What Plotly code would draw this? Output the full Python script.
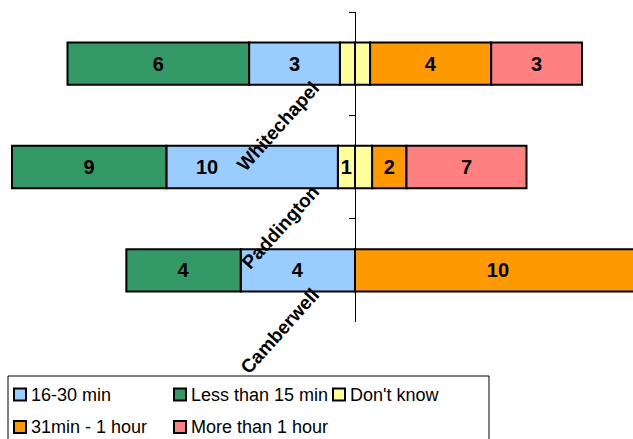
import plotly.graph_objects as go

# Travel time to hospital, by site (number of respondents)
sites = ["Whitechapel", "Paddington", "Camberwell"]
less_15 = [6, 9, 4]
min_16_30 = [3, 10, 4]
dont_know = [1, 2, 0]
min_31_60 = [4, 2, 10]
over_1h = [3, 7, 0]

series_names = ["16-30 min", "Less than 15 min", "Don't know", "31min - 1 hour", "More than 1 hour"]
colors = {
    "Less than 15 min": "#339966",
    "16-30 min": "#99CCFF",
    "Don't know": "#FFFF99",
    "31min - 1 hour": "#FF9900",
    "More than 1 hour": "#FF8080",
}

totals = [sum(r) for r in zip(less_15, min_16_30, dont_know, min_31_60, over_1h)]


def share(vals, sign=1, half=False):
    k = 0.5 if half else 1.0
    return [sign * k * 100.0 * v / t for v, t in zip(vals, totals)]


def labels(vals):
    return [f"{v:g}" if v >= 1 else "" for v in vals]


FONT = "Liberation Sans, Arial, sans-serif"
W, H = 633, 439
TOP, BOTTOM = 12, 322  # plot area, pixels from top
BAR_FONT = dict(family=FONT, size=20, color="black", weight="bold")
fig = go.Figure()


def add(name, x, text):
    fig.add_trace(go.Bar(
        y=sites, x=x, orientation="h", name=name,
        marker=dict(color=colors[name], line=dict(color="black", width=2)),
        text=text, textposition="inside", insidetextanchor="middle", textangle=0,
        textfont=BAR_FONT, showlegend=False,
    ))


# left of centre: half of "Don't know", then shorter journeys outward
half_dk = [v / 2 for v in dont_know]
blue_text = labels(min_16_30)
# the Paddington 16-30 label is set apart from the site name crossing the bar
moved = sites.index("Paddington")
blue_text[moved] = ""
add("Don't know", share(dont_know, -1, True), labels(half_dk))
add("16-30 min", share(min_16_30, -1), blue_text)
add("Less than 15 min", share(less_15, -1), labels(less_15))
# right of centre: other half of "Don't know", then longer journeys
add("Don't know", share(dont_know, 1, True), [""] * len(sites))
add("31min - 1 hour", share(min_31_60), labels(min_31_60))
add("More than 1 hour", share(over_1h), labels(over_1h))


# legend box below the chart, laid out in a 3-column grid
def px_x(x):
    return x / W


def px_y(y):
    return (BOTTOM - y) / (BOTTOM - TOP)


shapes = [dict(type="rect", xref="paper", yref="paper",
               x0=px_x(8), x1=px_x(489), y0=px_y(376), y1=px_y(460),
               line=dict(color="black", width=1), fillcolor="white", layer="above")]
annotations = []
col_x = [14, 174, 333]
row_y = [394.5, 427]
for i, name in enumerate(series_names):
    cx, cy = col_x[i % 3], row_y[i // 3]
    shapes.append(dict(type="rect", xref="paper", yref="paper",
                       x0=px_x(cx), x1=px_x(cx + 12), y0=px_y(cy - 6), y1=px_y(cy + 6),
                       line=dict(color="black", width=2), fillcolor=colors[name], layer="above"))
    annotations.append(dict(xref="paper", yref="paper", x=px_x(cx + 15), y=px_y(cy),
                            xanchor="left", yanchor="middle", showarrow=False, text=name,
                            font=dict(family=FONT, size=18, color="black")))

# value label for the moved 16-30 min segment, anchored at the segment's centre
mid = -100.0 * (dont_know[moved] / 2 + min_16_30[moved] / 2) / totals[moved]
annotations.append(dict(x=mid, y=sites[moved], xref="x", yref="y", xshift=-45,
                        text=f"{min_16_30[moved]:g}", showarrow=False, font=BAR_FONT))

fig.update_layout(
    width=W, height=H,
    barmode="relative", bargap=0.59,
    margin=dict(l=0, r=0, t=TOP, b=H - BOTTOM),
    paper_bgcolor="white", plot_bgcolor="white",
    font=dict(family=FONT, color="black"),
    showlegend=False,
    xaxis=dict(range=[-69.0, 54.03], visible=False, showgrid=False, zeroline=False),
    yaxis=dict(
        type="category", categoryorder="array", categoryarray=sites,
        range=[2.5, -0.5], anchor="free", position=355 / W,
        showline=True, linecolor="black", linewidth=1,
        ticks="outside", ticklen=6, tickcolor="black", tickson="boundaries",
        showgrid=False, zeroline=False,
        tickangle=-48, tickfont=dict(family=FONT, size=19, weight="bold"),
        ticklabelstandoff=38, ticklabelshift=-22,
    ),
    shapes=shapes,
    annotations=annotations,
)

fig.write_html("out.html")
